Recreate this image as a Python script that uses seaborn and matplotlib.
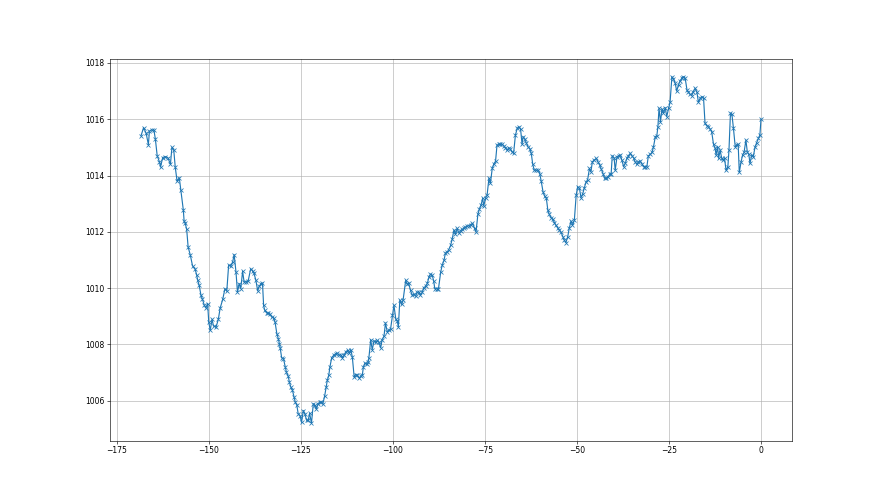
import matplotlib
matplotlib.use("Agg")
import matplotlib.pyplot as plt
import seaborn as sns
import pandas as pd

# Heures relatives (h) et pression (hPa)
hours = [
    -168.4, -167.7, -167.0, -166.4, -166.1, -165.5, -164.9, -164.5, -164.0, -163.4,
    -163.1, -162.5, -161.8, -161.1, -160.4, -160.0, -159.5, -159.1, -158.6, -158.0,
    -157.6, -156.9, -156.7, -156.4, -156.0, -155.6, -155.0, -154.4, -153.7, -153.3,
    -153.0, -152.6, -152.1, -151.7, -151.2, -150.8, -150.3, -150.0, -149.6, -149.1,
    -148.7, -148.0, -147.4, -146.9, -146.2, -145.6, -145.1, -144.6, -144.0, -143.5,
    -143.1, -142.6, -142.2, -141.7, -141.3, -140.8, -140.4, -139.9, -139.3, -138.6,
    -138.1, -137.7, -137.2, -136.7, -136.3, -135.8, -135.4, -135.1, -134.8, -134.2,
    -133.8, -133.3, -132.9, -132.4, -132.0, -131.5, -131.1, -130.8, -130.6, -130.2,
    -129.7, -129.2, -128.9, -128.4, -128.1, -127.7, -127.3, -126.8, -126.5, -126.1,
    -125.7, -125.2, -124.8, -124.3, -123.9, -123.4, -123.0, -122.6, -122.1, -121.6,
    -121.2, -120.8, -120.3, -119.9, -119.4, -119.0, -118.5, -118.1, -117.8, -117.4,
    -117.1, -116.6, -116.1, -115.5, -115.1, -114.6, -114.2, -113.7, -113.3, -112.8,
    -112.3, -111.9, -111.4, -111.0, -110.5, -110.1, -109.6, -109.2, -108.7, -108.3,
    -108.0, -107.6, -107.1, -106.7, -106.5, -106.0, -105.6, -105.1, -104.7, -104.2,
    -103.8, -103.3, -102.9, -102.4, -102.0, -101.5, -101.1, -100.6, -100.1, -99.7,
    -99.2, -98.8, -98.5, -98.1, -97.6, -97.2, -96.5, -96.1, -95.7, -95.2,
    -94.7, -94.3, -93.8, -93.4, -92.9, -92.5, -92.0, -91.6, -91.1, -90.6,
    -90.2, -89.8, -89.3, -88.9, -88.6, -88.1, -87.6, -87.0, -86.6, -86.1,
    -85.7, -85.2, -84.8, -84.3, -83.9, -83.4, -83.0, -82.5, -82.1, -81.6,
    -81.2, -80.7, -80.3, -79.8, -79.4, -78.9, -78.4, -77.8, -77.4, -76.9,
    -76.5, -76.0, -75.6, -75.3, -74.8, -74.4, -73.9, -73.5, -73.0, -72.6,
    -72.1, -71.7, -71.2, -70.8, -70.3, -69.9, -69.4, -69.0, -68.5, -68.1,
    -67.6, -67.2, -66.7, -66.2, -65.8, -65.3, -64.9, -64.6, -64.2, -63.7,
    -63.3, -62.8, -62.4, -62.0, -61.6, -61.0, -60.5, -60.1, -59.7, -59.2,
    -58.8, -58.3, -57.9, -57.5, -57.0, -56.6, -56.1, -55.7, -55.2, -54.8,
    -54.3, -53.8, -53.4, -53.0, -52.5, -52.1, -51.6, -51.2, -50.7, -50.2,
    -49.8, -49.3, -48.9, -48.4, -48.0, -47.5, -47.1, -46.6, -46.2, -45.8,
    -45.3, -44.7, -44.3, -43.8, -43.4, -42.9, -42.5, -42.0, -41.6, -41.1,
    -40.7, -40.4, -39.9, -39.6, -39.1, -38.7, -38.2, -37.8, -37.3, -36.9,
    -36.4, -36.0, -35.5, -35.1, -34.6, -34.2, -33.7, -33.3, -32.8, -32.3,
    -31.9, -31.5, -31.0, -30.6, -30.1, -29.6, -29.2, -28.7, -28.3, -28.0,
    -27.7, -27.3, -26.9, -26.5, -26.0, -25.6, -25.1, -24.7, -24.2, -23.8,
    -23.3, -22.9, -22.4, -22.0, -21.5, -21.1, -20.6, -20.1, -19.7, -19.3,
    -18.8, -18.4, -17.9, -17.4, -17.0, -16.5, -16.1, -15.6, -15.2, -14.7,
    -14.3, -13.8, -13.4, -12.9, -12.5, -12.2, -11.8, -11.5, -11.1, -10.7,
    -10.4, -9.9, -9.5, -9.0, -8.7, -8.3, -7.9, -7.5, -7.0, -6.6,
    -6.2, -5.9, -5.4, -5.0, -4.6, -4.1, -3.7, -3.3, -3.0, -2.5,
    -2.1, -1.6, -1.2, -0.7, -0.3, 0.0,
]

pressure = [
    1015.41, 1015.70, 1015.50, 1015.10, 1015.58, 1015.62, 1015.62, 1015.30, 1014.70, 1014.49,
    1014.30, 1014.64, 1014.67, 1014.63, 1014.40, 1015.00, 1014.90, 1014.30, 1013.80, 1013.92,
    1013.50, 1012.77, 1012.40, 1012.30, 1012.10, 1011.46, 1011.17, 1010.79, 1010.67, 1010.48,
    1010.28, 1010.10, 1009.74, 1009.60, 1009.39, 1009.30, 1009.45, 1008.80, 1008.50, 1008.89,
    1008.65, 1008.62, 1008.89, 1009.29, 1009.60, 1009.98, 1009.89, 1010.81, 1010.79, 1010.93,
    1011.19, 1010.57, 1009.86, 1010.16, 1009.98, 1010.60, 1010.22, 1010.22, 1010.25, 1010.69,
    1010.61, 1010.52, 1010.28, 1009.90, 1010.06, 1010.16, 1010.18, 1009.39, 1009.21, 1009.11,
    1009.11, 1009.07, 1008.97, 1008.95, 1008.80, 1008.38, 1008.20, 1008.02, 1007.88, 1007.53,
    1007.49, 1007.19, 1007.01, 1006.86, 1006.66, 1006.48, 1006.39, 1006.12, 1005.95, 1005.86,
    1005.53, 1005.47, 1005.23, 1005.65, 1005.53, 1005.30, 1005.30, 1005.55, 1005.20, 1005.89,
    1005.83, 1005.71, 1005.89, 1005.95, 1005.95, 1005.89, 1006.18, 1006.48, 1006.72, 1006.90,
    1007.19, 1007.53, 1007.61, 1007.67, 1007.69, 1007.61, 1007.64, 1007.53, 1007.61, 1007.73,
    1007.79, 1007.69, 1007.81, 1007.55, 1006.84, 1006.93, 1006.90, 1006.81, 1006.86, 1006.90,
    1007.19, 1007.33, 1007.29, 1007.37, 1007.53, 1008.17, 1007.81, 1008.12, 1008.08, 1008.14,
    1008.08, 1007.88, 1008.17, 1008.29, 1008.76, 1008.44, 1008.50, 1008.56, 1009.03, 1009.39,
    1008.91, 1008.83, 1008.62, 1009.57, 1009.42, 1009.59, 1010.28, 1010.14, 1010.18, 1009.92,
    1009.74, 1009.78, 1009.71, 1009.86, 1009.86, 1009.74, 1009.86, 1010.02, 1010.06, 1010.18,
    1010.39, 1010.49, 1010.46, 1010.25, 1009.98, 1009.98, 1009.98, 1010.57, 1010.81, 1010.99,
    1011.25, 1011.29, 1011.37, 1011.52, 1011.73, 1012.06, 1011.91, 1012.12, 1011.96, 1012.04,
    1012.09, 1012.12, 1012.17, 1012.20, 1012.22, 1012.25, 1012.30, 1012.12, 1012.00, 1012.62,
    1012.80, 1012.97, 1013.19, 1012.92, 1013.21, 1013.30, 1013.90, 1013.72, 1014.25, 1014.40,
    1014.51, 1015.08, 1015.11, 1015.11, 1015.11, 1015.06, 1014.99, 1014.90, 1014.99, 1014.94,
    1014.84, 1014.79, 1015.44, 1015.68, 1015.73, 1015.65, 1015.11, 1015.38, 1015.30, 1015.14,
    1015.02, 1014.96, 1014.79, 1014.40, 1014.19, 1014.19, 1014.19, 1014.07, 1013.80, 1013.42,
    1013.28, 1013.19, 1012.77, 1012.62, 1012.50, 1012.45, 1012.33, 1012.23, 1012.14, 1012.06,
    1011.98, 1011.82, 1011.70, 1011.62, 1011.82, 1012.12, 1012.38, 1012.23, 1012.41, 1013.30,
    1013.60, 1013.54, 1013.21, 1013.36, 1013.56, 1013.78, 1013.84, 1014.25, 1014.13, 1014.49,
    1014.55, 1014.61, 1014.49, 1014.37, 1014.23, 1014.07, 1013.90, 1013.90, 1013.95, 1014.04,
    1014.07, 1014.70, 1014.63, 1014.19, 1014.67, 1014.70, 1014.73, 1014.55, 1014.31, 1014.43,
    1014.61, 1014.70, 1014.79, 1014.70, 1014.63, 1014.49, 1014.40, 1014.49, 1014.51, 1014.40,
    1014.31, 1014.31, 1014.31, 1014.70, 1014.75, 1014.82, 1015.02, 1015.38, 1015.41, 1015.73,
    1016.39, 1015.91, 1016.36, 1016.21, 1016.41, 1016.09, 1016.39, 1016.60, 1017.51, 1017.43,
    1017.28, 1017.00, 1017.22, 1017.36, 1017.46, 1017.51, 1017.46, 1017.04, 1016.95, 1016.89,
    1016.84, 1016.98, 1017.10, 1016.96, 1016.60, 1016.74, 1016.80, 1016.74, 1015.85, 1015.77,
    1015.73, 1015.65, 1015.56, 1015.11, 1014.99, 1014.73, 1015.02, 1014.61, 1014.90, 1014.63,
    1014.55, 1014.61, 1014.19, 1014.31, 1014.90, 1016.21, 1016.17, 1015.70, 1015.02, 1015.08,
    1015.11, 1014.11, 1014.49, 1014.73, 1014.82, 1015.26, 1014.82, 1014.75, 1014.43, 1014.73,
    1014.67, 1015.02, 1015.16, 1015.32, 1015.44, 1016.00,
]

df = pd.DataFrame({"hours": hours, "pressure": pressure})

fig, ax = plt.subplots(figsize=(16, 9), dpi=55)

sns.lineplot(data=df, x="hours", y="pressure", ax=ax, color="#1f77b4",
             linewidth=1.5, marker="x", markersize=6,
             markeredgecolor="#1f77b4", markeredgewidth=1.0, sort=False)

ax.grid(True, color="#b0b0b0", linewidth=0.8)
ax.set_xlabel("")
ax.set_ylabel("")

fig.savefig("out.png", dpi=55)
plt.close(fig)
